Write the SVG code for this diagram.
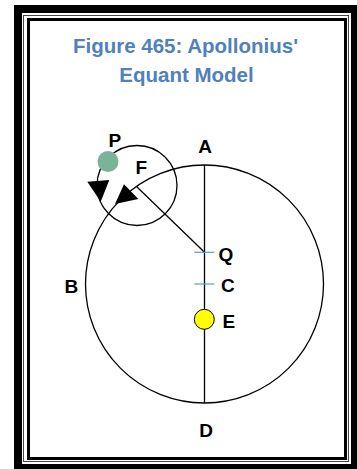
<svg xmlns="http://www.w3.org/2000/svg" width="357" height="469" viewBox="0 0 357 469">
<style>
.lbl{font-family:"Liberation Sans",Arial,sans-serif;font-weight:bold;font-size:19px;fill:#000}
.ttl{font-family:"Liberation Sans",Arial,sans-serif;font-weight:bold;font-size:20.5px;fill:#4F81BD;text-anchor:middle}
.ln{stroke:#000;stroke-width:1.3;fill:none}
.tick{stroke:#5B9BD5;stroke-width:1.2}
</style>
<g id="frame">
<rect x="14" y="5" width="343" height="464" fill="#000"/>
<rect x="22" y="13" width="329" height="451" fill="#fff"/>
<rect x="23.5" y="15.5" width="325" height="446" fill="none" stroke="#444" stroke-width="1"/>
<rect x="28.5" y="19.5" width="317" height="439" fill="none" stroke="#000" stroke-width="3"/>
</g>
<g id="title">
<text class="ttl" x="185.5" y="53">Figure 465: Apollonius'</text>
<text class="ttl" x="186.5" y="82">Equant Model</text>
</g>
<g id="connectors">
<line class="ln" x1="204.5" y1="165" x2="204.5" y2="403"/>
<line class="ln" x1="204.5" y1="252.3" x2="136.5" y2="186.5"/>
<line class="tick" x1="194.3" y1="252.3" x2="214.3" y2="252.3"/>
<line class="tick" x1="194.3" y1="284" x2="214.3" y2="284"/>
<polygon points="87.3,181.7 109.3,180 100.7,201.7" fill="#000"/>
<polygon points="124,184.3 138.3,199 115,204" fill="#000"/>
</g>
<g id="deferent">
<circle class="ln" cx="204.5" cy="284" r="119"/>
</g>
<g id="epicycle">
<circle class="ln" cx="137" cy="185.5" r="40"/>
</g>
<g id="P">
<circle cx="108" cy="161.5" r="10.5" fill="#7AB39A"/>
<text class="lbl" x="108.5" y="146.7">P</text>
</g>
<g id="F"><text class="lbl" x="135.5" y="174.3">F</text></g>
<g id="A"><text class="lbl" x="205" y="152.7" text-anchor="middle">A</text></g>
<g id="B"><text class="lbl" x="64.5" y="292.7">B</text></g>
<g id="Q"><text class="lbl" x="218.5" y="260.5">Q</text></g>
<g id="C"><text class="lbl" x="221" y="291.7">C</text></g>
<g id="E">
<circle cx="204.3" cy="319.3" r="10" fill="#FFFF00" stroke="#000" stroke-width="1"/>
<text class="lbl" x="222.5" y="328.3">E</text>
</g>
<g id="D"><text class="lbl" x="206" y="436.7" text-anchor="middle">D</text></g>
</svg>
